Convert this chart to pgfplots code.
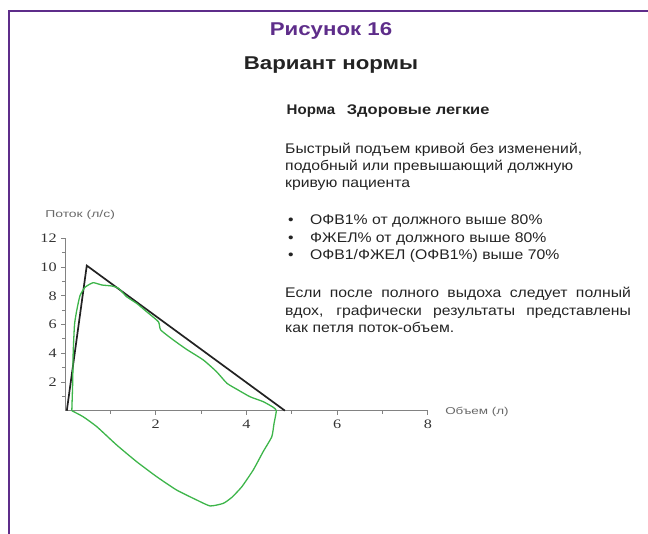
\documentclass[border=0pt]{standalone}
\usepackage{pgfplots}
\pgfplotsset{compat=1.18}
\usepackage{fontspec}
\setmainfont{Liberation Sans}
\newfontfamily\tickfont{Liberation Serif}
\definecolor{frame}{RGB}{94,45,138}
\definecolor{cgreen}{RGB}{61,181,74}
\definecolor{cblack}{RGB}{34,34,34}
\definecolor{axgray}{RGB}{130,130,130}
\definecolor{txt}{RGB}{35,35,35}
\begin{document}
\begin{tikzpicture}[x=1bp,y=1bp]
\path[use as bounding box] (0,0) rectangle (648,534);
\draw[frame, line width=2.5bp] (9,0) -- (9,523) -- (648,523);
% titles
\node[frame, font=\bfseries\fontsize{18.6}{20}\selectfont, xscale=1.2, anchor=base, inner sep=0] at (331,498.3) {Рисунок 16};
\node[txt, font=\bfseries\fontsize{18.6}{20}\selectfont, xscale=1.2, anchor=base, inner sep=0] at (331,464) {Вариант нормы};
% heading
\node[txt, font=\bfseries\fontsize{14}{17.5}\selectfont, xscale=1.08, anchor=base west, inner sep=0] at (286.5,419.7) {Норма};
\node[txt, font=\bfseries\fontsize{14}{17.5}\selectfont, xscale=1.18, anchor=base west, inner sep=0] at (346.7,419.7) {Здоровые легкие};
% text block
\begin{scope}[every node/.style={anchor=base west, inner sep=0, txt, xscale=1.13, font=\fontsize{14}{17.5}\selectfont}]
\node at (285,380.7) {Быстрый подъем кривой без изменений,};
\node at (285,363.3) {подобный или превышающий должную};
\node at (285,346) {кривую пациента};
\node at (288,309) {•};
\node at (310,309) {ОФВ1\% от должного выше 80\%};
\node at (288,291.5) {•};
\node at (310,291.5) {ФЖЕЛ\% от должного выше 80\%};
\node at (288,274) {•};
\node at (310,274) {ОФВ1/ФЖЕЛ (ОФВ1\%) выше 70\%};
\node at (285,236) {\makebox[306bp][s]{Если после полного выдоха следует полный}};
\node at (285,218.5) {\makebox[306bp][s]{вдох, графически результаты представлены}};
\node at (285,201) {как петля поток-объем.};
\end{scope}
% axis labels
\node[axgray!80!black, font=\fontsize{10}{10}\selectfont, xscale=1.4, anchor=west, inner sep=0] at (45,319) {Поток (л/с)};
\node[axgray!80!black, font=\fontsize{10}{10}\selectfont, xscale=1.35, anchor=west, inner sep=0] at (445,122.5) {Объем (л)};
\begin{axis}[
  at={(65bp,123.3bp)}, anchor=south west,
  scale only axis, width=362.8bp, height=172.4bp,
  xmin=0, xmax=8, ymin=0, ymax=12,
  axis lines=middle,
  axis line style={-, axgray, line width=0.9bp},
  every inner x axis line/.append style={-},
  every inner y axis line/.append style={-},
  clip=false,
  xtick={2,4,6,8}, minor xtick={1,3,5,7},
  ytick={2,4,6,8,10,12}, minor ytick={1,3,5,7,9,11},
  tick align=outside,
  major tick length=4bp, minor tick length=3bp,
  tick style={axgray, line width=0.8bp},
  /pgf/number format/assume math mode=true,
  ticklabel style={font=\tickfont\fontsize{13}{13}\selectfont, xscale=1.25, text=black!80},
  xticklabel style={yshift=-1.5bp},
]
\addplot[cblack, line width=1.7bp] coordinates {(0.04,0) (0.48,10.1) (4.85,0)};
\addplot[cgreen, line width=1.3bp, smooth, tension=0.3] coordinates {
(0.15,0) (0.17,2) (0.18,4) (0.21,6) (0.26,7) (0.33,8) (0.44,8.59) (0.62,8.91)
(0.81,8.75) (1.03,8.68) (1.18,8.52) (1.36,7.93) (1.58,7.47) (1.80,6.89)
(2.06,6.19) (2.11,5.62) (2.39,4.92) (2.68,4.27) (3.05,3.53) (3.34,2.72)
(3.57,1.91) (3.79,1.49) (4.08,0.97) (4.37,0.63) (4.59,0.24) (4.66,0)
(4.61,-0.88) (4.56,-1.81) (4.37,-2.85) (4.15,-4.13) (3.90,-5.29) (3.68,-6.03)
(3.49,-6.45) (3.20,-6.63) (2.90,-6.21) (2.46,-5.52) (2.02,-4.59) (1.58,-3.55)
(1.14,-2.39) (0.70,-1.11) (0.40,-0.42) (0.15,0)};
\end{axis}
\end{tikzpicture}
\end{document}
